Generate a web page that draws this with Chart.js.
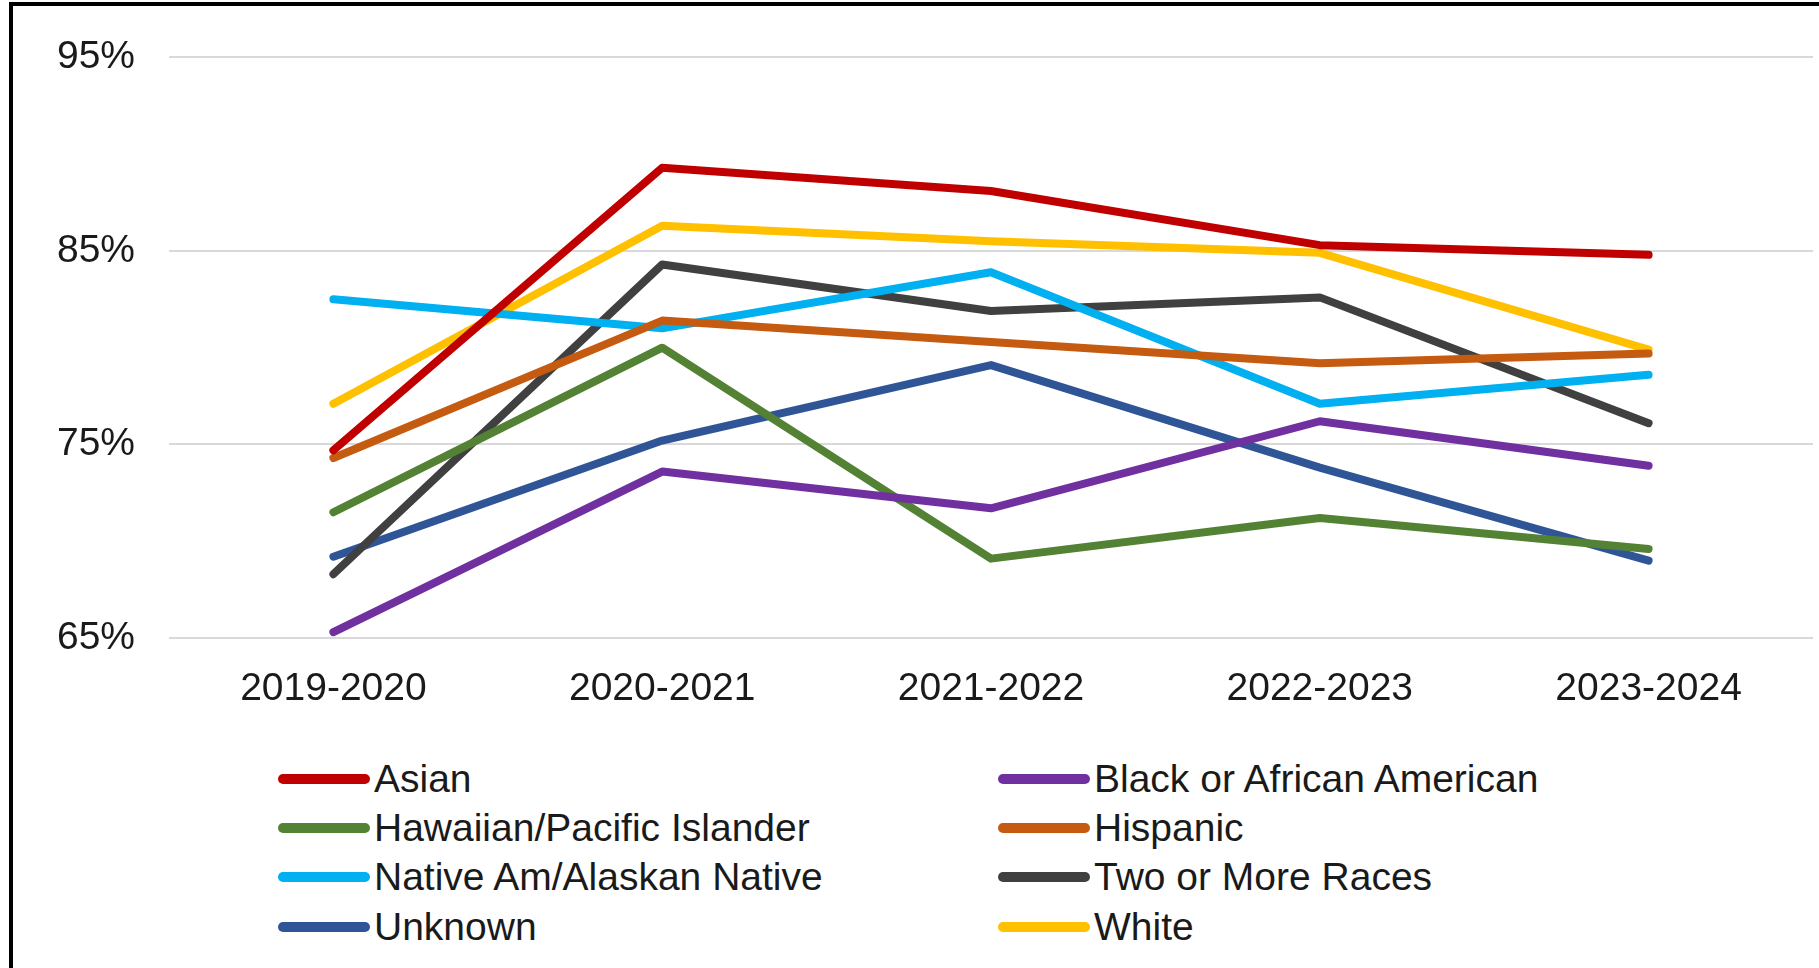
<!DOCTYPE html>
<html>
<head>
<meta charset="utf-8">
<script src="https://cdn.jsdelivr.net/npm/chart.js@4/dist/chart.umd.min.js"></script>
<style>
    html, body { margin: 0; padding: 0; background: #fff; }
    body { width: 1819px; height: 968px; position: relative; overflow: hidden; font-family: "Liberation Sans", Arial, sans-serif; }
    #frame { position: absolute; left: 9px; top: 2px; width: 1820px; height: 980px; border-left: 4px solid #000; border-top: 4px solid #000; }
    #chartBox { position: absolute; left: 0; top: 0; width: 1819px; height: 720px; }
    #legend { position: absolute; left: 278px; top: 754px; display: grid; grid-template-columns: 720px 720px; }
    .item { display: flex; align-items: center; height: 49.3px; font-size: 39px; color: #1a1a1a; white-space: nowrap; }
    .swatch { width: 92px; height: 10px; border-radius: 5px; margin-right: 4px; }
</style>
</head>
<body>
<div id="frame"></div>
<div id="chartBox"><canvas id="chart"></canvas></div>
<div id="legend"></div>
<script>
// Sample data (percent)
const years = ['2019-2020', '2020-2021', '2021-2022', '2022-2023', '2023-2024'];
const groups = ['Asian', 'Black or African American', 'Hawaiian/Pacific Islander', 'Hispanic',
    'Native Am/Alaskan Native', 'Two or More Races', 'Unknown', 'White'];
const colors = ['#C00000', '#7030A0', '#548235', '#C55A11', '#00B0F0', '#404040', '#2F5597', '#FFC000'];

const asian = [74.7, 89.3, 88.1, 85.3, 84.8];
const black = [65.3, 73.6, 71.7, 76.2, 73.9];
const hawaiian = [71.5, 80.0, 69.1, 71.2, 69.6];
const hispanic = [74.3, 81.4, 80.3, 79.2, 79.7];
const nativeAm = [82.5, 81.0, 83.9, 77.1, 78.6];
const twoOrMore = [68.3, 84.3, 81.9, 82.6, 76.1];
const unknown = [69.2, 75.2, 79.1, 73.8, 69.0];
const white = [77.1, 86.3, 85.5, 84.9, 79.9];

const yTicks = [65, 75, 85, 95];

const series = [asian, black, hawaiian, hispanic, nativeAm, twoOrMore, unknown, white];

const tickFont = { family: '"Liberation Sans", Arial, sans-serif', size: 39 };

// Builds the two column legend from the chart datasets
const htmlLegend = {
    id: 'htmlLegend',
    afterUpdate(chart) {
        const box = document.getElementById('legend');
        box.innerHTML = '';
        chart.data.datasets.forEach(ds => {
            const item = document.createElement('div');
            item.className = 'item';
            const sw = document.createElement('span');
            sw.className = 'swatch';
            sw.style.background = ds.borderColor;
            const txt = document.createElement('span');
            txt.textContent = ds.label;
            item.appendChild(sw);
            item.appendChild(txt);
            box.appendChild(item);
        });
    }
};

new Chart(document.getElementById('chart'), {
    type: 'line',
    data: {
        labels: years,
        datasets: groups.map((g, i) => ({
            label: g,
            data: series[i],
            borderColor: colors[i],
            backgroundColor: colors[i],
            borderWidth: 8,
            pointRadius: 0,
            tension: 0,
            borderCapStyle: 'round',
            borderJoinStyle: 'round'
        }))
    },
    options: {
        responsive: true,
        maintainAspectRatio: false,
        animation: false,
        layout: { padding: { top: 57, right: 6, bottom: 0, left: 0 } },
        plugins: {
            legend: { display: false },
            tooltip: { enabled: false }
        },
        scales: {
            x: {
                offset: true,
                grid: { display: false, drawTicks: false },
                border: { display: false },
                ticks: { font: tickFont, color: '#1a1a1a', padding: 28, maxRotation: 0 },
                afterFit: scale => { scale.height = 82; }
            },
            y: {
                min: 65,
                max: 95,
                afterBuildTicks: scale => { scale.ticks = yTicks.map(v => ({ value: v })); },
                grid: { color: '#d9d9d9', lineWidth: 2, drawTicks: false },
                border: { display: false },
                ticks: {
                    font: tickFont,
                    color: '#1a1a1a',
                    padding: 34,
                    callback: v => v + '%'
                },
                afterFit: scale => { scale.width = 169; }
            }
        }
    },
    plugins: [htmlLegend]
});
</script>
</body>
</html>
